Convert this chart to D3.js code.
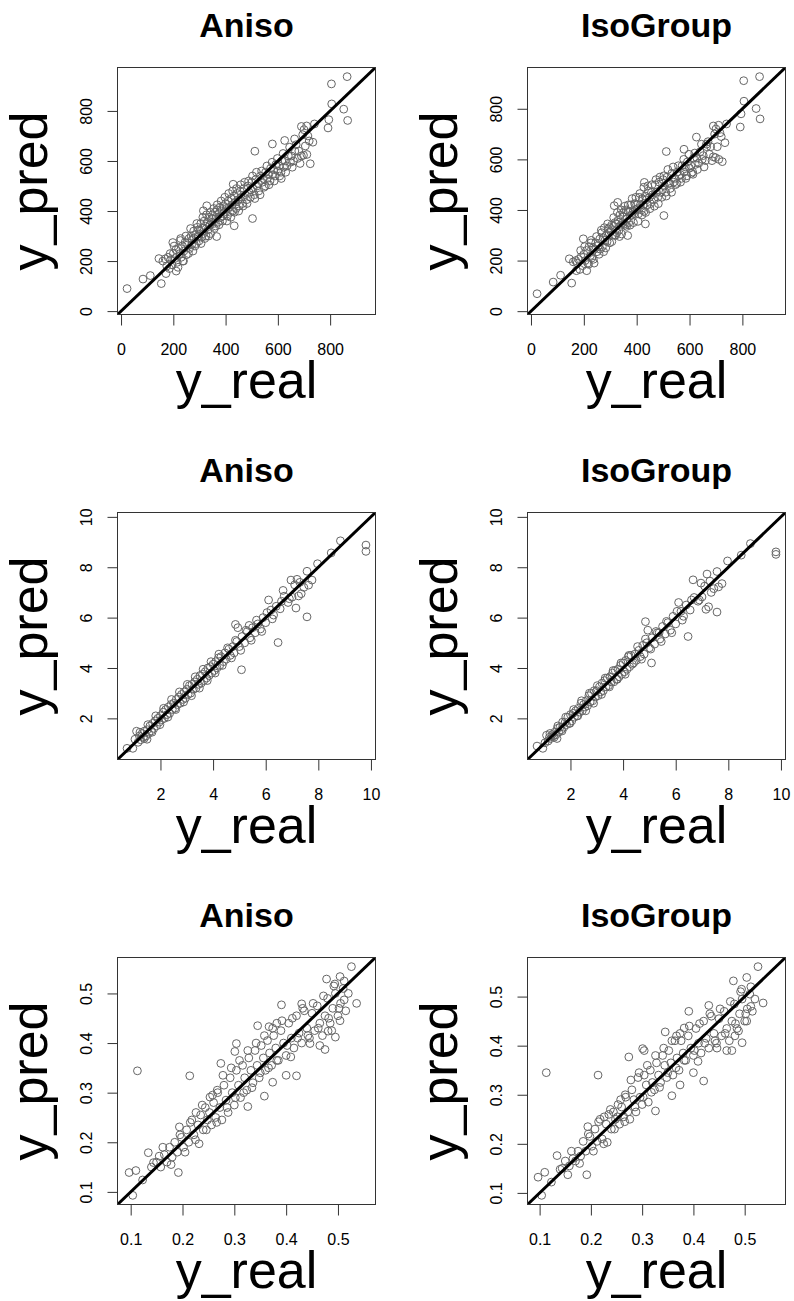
<!DOCTYPE html>
<html>
<head>
<meta charset="utf-8">
<script src="https://cdn.jsdelivr.net/npm/d3@7"></script>
<style>
body { margin: 0; background: #fff; }
text { font-family: "Liberation Sans", Arial, Helvetica, sans-serif; }
</style>
</head>
<body>
<svg id="chart" width="794" height="1301"></svg>
<script>
// row 1 : y_real shared by both models, one y_pred array per model
let real_1 = [23,84,112,145,154,169,198,211,239,227,315,328,366,433,429,503,512,579,613,626,
    664,690,698,711,724,734,740,792,795,805,806,852,865,867,
    175,180,185,190,195,200,205,210,215,220, 225,230,235,240,245,250,255,260,262,268,
    270,275,278,280,285,288,292,295,298,302, 305,308,312,315,318,322,325,330,333,336,
    340,343,347,350,353,357,360,363,367,370, 374,378,381,385,388,392,395,400,403,407,
    410,414,418,421,425,428,432,436,440,444, 448,452,456,460,465,470,475,480,485,490,
    495,500,505,510,515,520,527,533,540,547, 553,560,566,572,580,586,592,600,607,615,
    622,630,640,648,655,665,675,685,695,700, 705,715,
    160,172,188,203,218,228,236,248,258,266, 273,283,290,297,306,313,320,327,335,342,
    348,355,362,368,375,383,390,397,405,412, 420,427,434,442,450,458,467,473,482,488,
    497,503,512,518,525,532,538,545,552,558, 565,570,578,584,590,598,605,612,620,628,
    635,645,652,660,670,680,690,710,720];
let aniso_1 = [90,128,142,210,110,209,274,160,200,282,401,421,298,341,507,370,639,668,530,682,
    688,738,623,626,589,675,748,732,765,908,828,807,937,762,
    180,215,170,205,185,230,210,245,195,250, 230,215,260,240,275,225,265,290,250,300,
    265,240,320,290,305,270,335,300,280,320, 350,295,330,310,360,340,300,355,325,375,
    345,310,370,385,350,330,395,370,405,355, 390,415,375,400,360,420,395,430,410,380,
    440,415,395,450,425,400,460,435,410,470, 445,420,480,455,430,490,465,445,500,475,
    455,515,490,465,525,500,480,540,515,495, 555,530,505,570,545,520,585,560,540,600,
    575,555,620,595,575,640,610,590,705,725, 660,700,
    200,150,230,260,175,290,200,300,230,330, 285,260,350,325,270,375,290,385,300,395,
    355,410,340,425,345,440,380,455,360,470, 375,480,395,490,400,505,420,515,430,520,
    485,540,450,555,510,465,560,530,500,580, 545,520,595,565,540,610,580,555,630,600,
    580,655,620,600,665,640,620,740,680];
let iso_1 = [69,115,142,207,111,200,286,160,190,270,417,430,299,345,509,378,631,640,541,688,
    660,732,607,600,591,666,740,728,780,911,830,801,927,760,
    190,205,165,215,180,225,200,240,190,255, 220,210,250,245,270,235,260,285,245,310,
    255,235,330,280,300,275,325,310,270,315, 340,300,335,300,350,345,310,360,320,380,
    340,305,375,390,345,340,400,365,395,350, 395,420,380,390,350,425,400,420,405,385,
    450,420,400,445,420,395,455,440,420,475, 450,425,470,460,440,500,470,450,510,470,
    450,520,495,470,530,505,485,545,510,500, 550,535,510,575,550,525,590,565,545,605,
    580,560,630,600,570,650,620,595,700,720, 650,705,
    195,160,240,255,185,280,205,295,225,320, 290,250,345,330,275,370,300,390,295,400,
    350,415,335,420,340,445,385,450,355,465, 380,490,390,495,405,500,415,520,425,530,
    480,535,455,560,505,470,570,525,505,575, 540,525,600,570,535,620,575,550,625,605,
    585,660,615,595,670,650,610,735,690];
let ticks_1 = [0, 200, 400, 600, 800];

// row 2
let real_2 = [0.73,0.95,1.03,1.09,1.49,4.85,4.94,5.08,5.37,6.11,6.47,6.66,7.00,6.96,7.19,
    7.15,7.25,7.57,7.57,7.63,7.76,7.97,8.49,8.84,9.81,9.81,
    1.15,1.20,1.25,1.30,1.35,1.40,1.45,1.50,1.55,1.60, 1.65,1.70,1.75,1.80,1.85,1.90,1.95,2.00,2.05,2.10,
    2.15,2.20,2.25,2.30,2.35,2.40,2.45,2.50,2.55,2.60, 2.65,2.70,2.75,2.80,2.85,2.90,2.95,3.00,3.05,3.10,
    3.15,3.20,3.25,3.30,3.35,3.40,3.45,3.50,3.55,3.60, 3.65,3.70,3.75,3.80,3.85,3.90,3.95,4.00,4.05,4.10,
    4.15,4.20,4.25,4.30,4.40,4.45,4.50,4.60,4.65,4.75, 4.80,4.90,5.00,5.10,5.20,5.30,5.40,5.50,5.60,5.70,
    5.80,5.90,6.00,6.20,6.30,6.40,6.55,6.70,6.85,7.30, 7.45,
    1.22,1.38,1.52,1.68,1.82,1.98,2.12,2.28,2.42,2.58, 2.72,2.88,3.02,3.18,3.32,3.48,3.62,3.78,3.92,4.08,
    4.22,4.35,4.55,4.70,4.85,5.05,5.25,5.45,5.65,5.85, 6.05,6.25,6.60,6.90,7.10,7.35];
let aniso_2 = [0.81,0.81,1.17,1.49,1.17,5.73,5.60,3.93,5.69,6.70,5.01,7.08,6.81,7.49,7.52,
    6.38,6.86,6.03,7.84,7.29,7.49,8.14,8.57,9.05,8.88,8.63,
    1.05,1.30,1.15,1.40,1.25,1.50,1.30,1.55,1.40,1.70, 1.50,1.80,1.60,1.90,1.70,2.00,1.85,2.10,1.95,2.25,
    2.00,2.35,2.15,2.45,2.20,2.55,2.35,2.60,2.40,2.75, 2.55,2.85,2.60,2.95,2.75,3.05,2.80,3.15,2.95,3.30,
    3.00,3.35,3.15,3.45,3.20,3.55,3.35,3.70,3.40,3.75, 3.50,3.85,3.60,4.00,3.70,4.05,3.80,4.15,3.90,4.25,
    4.00,4.40,4.10,4.45,4.25,4.60,4.35,4.75,4.50,4.85, 4.60,5.05,4.85,5.25,5.00,5.45,5.20,5.60,5.40,5.75,
    5.55,6.00,5.80,6.30,6.10,6.45,6.35,6.85,6.60,7.40, 7.20,
    1.45,1.20,1.75,1.45,2.10,1.75,2.40,2.05,2.75,2.35, 3.05,2.65,3.35,2.90,3.65,3.20,3.95,3.50,4.25,3.80,
    4.55,4.10,4.80,4.40,5.10,4.70,5.50,5.10,5.90,5.45, 6.20,5.95,6.65,6.75,7.30,6.95];
let iso_2 = [0.90,0.81,1.03,1.33,1.20,5.84,5.50,4.20,5.40,6.60,5.25,7.50,6.82,7.37,7.73,
    6.33,6.43,6.22,7.83,7.22,7.35,8.25,8.48,8.94,8.61,8.51,
    1.10,1.25,1.20,1.35,1.30,1.45,1.35,1.60,1.45,1.65, 1.55,1.85,1.65,1.85,1.75,2.05,1.80,2.15,1.90,2.20,
    2.05,2.30,2.10,2.40,2.25,2.60,2.30,2.55,2.45,2.70, 2.50,2.90,2.65,3.00,2.70,3.10,2.85,3.10,2.90,3.25,
    3.05,3.40,3.10,3.50,3.25,3.60,3.30,3.65,3.45,3.80, 3.45,3.90,3.55,3.95,3.65,4.10,3.75,4.20,3.85,4.30,
    3.95,4.45,4.05,4.50,4.20,4.55,4.30,4.70,4.45,4.90, 4.55,5.00,4.80,5.20,4.95,5.40,5.15,5.65,5.35,5.80,
    5.50,6.05,5.75,6.25,6.05,6.50,6.30,6.80,6.65,7.45, 7.15,
    1.40,1.25,1.70,1.50,2.05,1.80,2.35,2.10,2.70,2.30, 3.00,2.60,3.30,2.95,3.60,3.25,3.90,3.55,4.20,3.75,
    4.50,4.15,4.85,4.35,5.15,4.75,5.45,5.05,5.85,5.40, 6.25,5.90,6.70,6.70,7.25,7.00];
let ticks_2 = [2, 4, 6, 8, 10];

// row 3
let real_3 = [0.104,0.097,0.110,0.113,0.123,0.134,0.144,0.155,0.192,0.194,
    0.214,0.232,0.253,0.267,0.274,0.301,0.304,0.326,0.345,0.358,
    0.367,0.374,0.382,0.391,0.400,0.409,0.420,0.430,0.446,0.475,
    0.478,0.481,0.495,0.494,0.504,0.512,0.526,0.536,0.504,
    0.150,0.158,0.165,0.170,0.175,0.180,0.185,0.190,0.198,0.202,
    0.208,0.212,0.218,0.222,0.226,0.230,0.235,0.240,0.244,0.248,
    0.252,0.256,0.260,0.264,0.268,0.272,0.276,0.280,0.284,0.288,
    0.292,0.296,0.300,0.304,0.308,0.312,0.316,0.320,0.324,0.328,
    0.332,0.336,0.340,0.344,0.348,0.352,0.356,0.360,0.364,0.368,
    0.372,0.376,0.380,0.385,0.390,0.395,0.400,0.405,0.410,0.415,
    0.420,0.425,0.430,0.435,0.440,0.445,0.450,0.455,0.460,0.465,
    0.470,0.475,0.480,0.485,0.490,0.495,0.500,0.505,0.510,0.515, 0.520,
    0.140,0.162,0.178,0.195,0.205,0.215,0.225,0.238,0.246,0.258,
    0.266,0.278,0.286,0.294,0.302,0.310,0.318,0.326,0.334,0.342,
    0.350,0.358,0.366,0.374,0.382,0.392,0.402,0.412,0.422,0.432,
    0.442,0.452,0.462,0.472,0.482,0.492,0.502,0.512,0.465,0.488];
let aniso_3 = [0.093,0.139,0.143,0.344,0.124,0.179,0.159,0.172,0.139,0.231,
    0.334,0.197,0.291,0.305,0.359,0.383,0.399,0.272,0.435,0.293,
    0.433,0.321,0.440,0.477,0.335,0.372,0.334,0.479,0.399,0.387,
    0.529,0.424,0.412,0.519,0.534,0.487,0.554,0.480,0.445,
    0.160,0.150,0.175,0.160,0.190,0.170,0.200,0.180,0.210,0.190,
    0.225,0.200,0.245,0.215,0.260,0.235,0.255,0.225,0.270,0.245,
    0.260,0.235,0.280,0.250,0.300,0.270,0.245,0.315,0.285,0.260,
    0.330,0.300,0.275,0.345,0.315,0.290,0.355,0.330,0.305,0.370,
    0.345,0.320,0.385,0.355,0.330,0.395,0.370,0.345,0.405,0.380,
    0.355,0.415,0.390,0.365,0.425,0.400,0.375,0.440,0.410,0.390,
    0.455,0.420,0.400,0.465,0.430,0.410,0.460,0.425,0.475,0.440,
    0.415,0.455,0.490,0.440,0.470,0.500,0.455,0.480,0.510,0.465, 0.500,
    0.150,0.190,0.155,0.215,0.180,0.240,0.205,0.275,0.225,0.295,
    0.240,0.335,0.270,0.350,0.290,0.365,0.300,0.385,0.310,0.400,
    0.340,0.415,0.350,0.430,0.365,0.445,0.395,0.450,0.410,0.470,
    0.415,0.480,0.430,0.495,0.450,0.515,0.470,0.525,0.395,0.425];
let iso_3 = [0.095,0.132,0.142,0.345,0.122,0.176,0.150,0.137,0.137,0.235,
    0.340,0.203,0.280,0.300,0.377,0.394,0.390,0.267,0.428,0.298,
    0.420,0.320,0.436,0.470,0.345,0.368,0.328,0.482,0.395,0.390,
    0.532,0.420,0.406,0.515,0.539,0.480,0.561,0.487,0.450,
    0.165,0.155,0.170,0.165,0.185,0.175,0.205,0.185,0.215,0.195,
    0.230,0.205,0.250,0.210,0.255,0.240,0.260,0.230,0.265,0.250,
    0.255,0.240,0.275,0.255,0.295,0.265,0.250,0.310,0.290,0.265,
    0.335,0.295,0.280,0.340,0.320,0.285,0.350,0.325,0.310,0.365,
    0.340,0.325,0.380,0.360,0.335,0.390,0.365,0.340,0.410,0.375,
    0.350,0.410,0.385,0.370,0.420,0.395,0.380,0.435,0.405,0.385,
    0.450,0.415,0.395,0.460,0.425,0.405,0.455,0.420,0.470,0.435,
    0.410,0.450,0.485,0.435,0.465,0.495,0.450,0.475,0.505,0.470, 0.495,
    0.148,0.185,0.160,0.220,0.185,0.245,0.200,0.270,0.230,0.290,
    0.245,0.330,0.275,0.345,0.295,0.360,0.305,0.380,0.315,0.395,
    0.345,0.410,0.355,0.425,0.370,0.440,0.390,0.445,0.405,0.465,
    0.410,0.475,0.425,0.490,0.445,0.510,0.465,0.520,0.390,0.430];
let ticks_3 = [0.1, 0.2, 0.3, 0.4, 0.5];

let titles = ["Aniso", "IsoGroup"];

function pad_domain(values) {
    // R style: data range stretched by 4% on each side
    let ext = d3.extent(values);
    let pad = (ext[1] - ext[0]) * 0.04;
    return [ext[0] - pad, ext[1] + pad];
}

function render_panel(svg, id, left, top, title, real, pred, ticks) {
    let width = 258;
    let height = 247;
    let domain = pad_domain(real.concat(pred));
    let x = d3.scaleLinear().domain(domain).range([0, width]);
    let y = d3.scaleLinear().domain(domain).range([height, 0]);

    let g = svg.append("g").attr("transform", "translate(" + left + "," + top + ")");

    g.append("clipPath").attr("id", "clip" + id)
      .append("rect").attr("width", width).attr("height", height);

    let plot = g.append("g").attr("clip-path", "url(#clip" + id + ")");

    plot.selectAll("circle")
      .data(d3.range(real.length))
      .enter().append("circle")
        .attr("cx", i => x(real[i]))
        .attr("cy", i => y(pred[i]))
        .attr("r", 3.9)
        .attr("fill", "none")
        .attr("stroke", "#666")
        .attr("stroke-width", 1);

    plot.append("line")
        .attr("x1", x(domain[0])).attr("y1", y(domain[0]))
        .attr("x2", x(domain[1])).attr("y2", y(domain[1]))
        .attr("stroke", "#000")
        .attr("stroke-width", 3);

    g.append("rect")
        .attr("width", width).attr("height", height)
        .attr("fill", "none").attr("stroke", "#333").attr("stroke-width", 1);

    let fmt = d3.format("~g");

    g.append("g")
        .attr("transform", "translate(0," + height + ")")
        .call(d3.axisBottom(x).tickValues(ticks).tickSize(11).tickFormat(fmt))
        .call(a => a.select(".domain").remove())
        .attr("color", "#333")
        .attr("font-size", 16)
        .attr("font-family", null)
      .selectAll("text")
        .attr("y", 40).attr("dy", 0)
        .attr("fill", "#000");

    g.append("g")
        .call(d3.axisLeft(y).tickValues(ticks).tickSize(10).tickFormat(fmt))
        .call(a => a.select(".domain").remove())
        .attr("color", "#333")
        .attr("font-size", 16)
        .attr("font-family", null)
      .selectAll("text")
        .attr("x", 0).attr("dy", 0)
        .attr("text-anchor", "middle")
        .attr("transform", "translate(-26,0) rotate(-90)")
        .attr("fill", "#000");

    g.append("text")
        .attr("x", width / 2).attr("y", -31)
        .attr("text-anchor", "middle")
        .attr("font-size", 34).attr("font-weight", "bold")
        .text(title);

    g.append("text")
        .attr("x", width / 2).attr("y", height + 83)
        .attr("text-anchor", "middle")
        .attr("font-size", 52)
        .text("y_real");

    g.append("text")
        .attr("transform", "translate(-71," + (height / 2) + ") rotate(-90)")
        .attr("text-anchor", "middle")
        .attr("font-size", 52)
        .text("y_pred");
}

let svg = d3.select("#chart");
svg.append("rect").attr("width", 794).attr("height", 1301).attr("fill", "#fff");

let lefts = [117.5, 527.5];
let tops = [67.5, 512.5, 957.5];
let rows = [
    [real_1, aniso_1, iso_1, ticks_1],
    [real_2, aniso_2, iso_2, ticks_2],
    [real_3, aniso_3, iso_3, ticks_3]
];

rows.forEach((row, r) => {
    render_panel(svg, r + "a", lefts[0], tops[r], titles[0], row[0], row[1], row[3]);
    render_panel(svg, r + "i", lefts[1], tops[r], titles[1], row[0], row[2], row[3]);
});
</script>
</body>
</html>
